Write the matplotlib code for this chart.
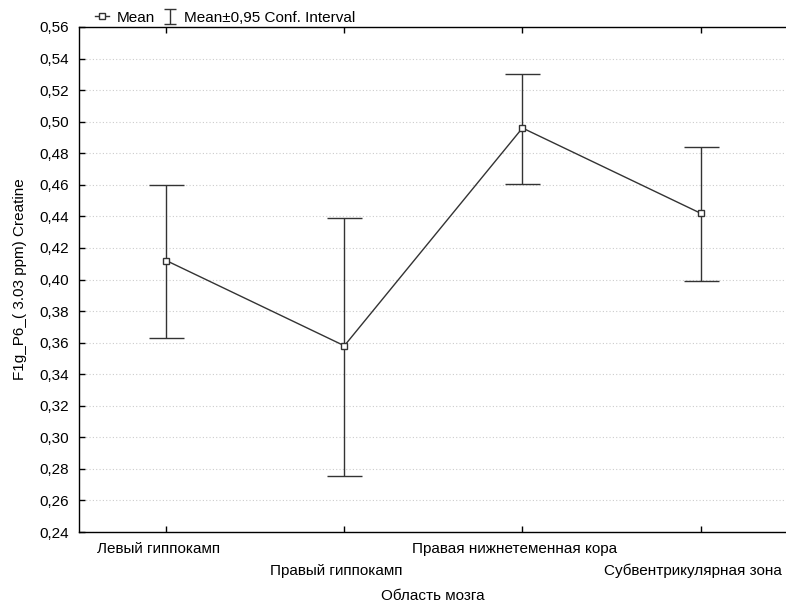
''' Creatine means by brain region with 95% CI '''

import numpy as np
import matplotlib
matplotlib.use('Agg')
import matplotlib.pyplot as plt
import matplotlib.transforms as mtransforms

plt.rcParams['font.family'] = ['Liberation Sans', 'DejaVu Sans']

regions = ['Левый гиппокамп', 'Правый гиппокамп',
           'Правая нижнетеменная кора', 'Субвентрикулярная зона']
means = [0.412, 0.358, 0.496, 0.442]
ci_low = [0.363, 0.2755, 0.4605, 0.399]
ci_high = [0.460, 0.439, 0.530, 0.484]
yticks = [0.24, 0.26, 0.28, 0.30, 0.32, 0.34, 0.36, 0.38, 0.40,
          0.42, 0.44, 0.46, 0.48, 0.50, 0.52, 0.54, 0.56]

col = '#333333'
fs = 11
W, H = 786, 608
fig = plt.figure(figsize=(W / 100, H / 100), dpi=100)
ax = fig.add_axes([79 / W, (H - 532) / H, (W - 79) / W, (532 - 27) / H])

x = list(range(len(regions)))
err = [[m - lo for m, lo in zip(means, ci_low)],
       [hi - m for m, hi in zip(means, ci_high)]]

ax.errorbar(x, means, yerr=err, fmt='none', ecolor=col, elinewidth=1,
            capsize=12.6, capthick=1, zorder=2)
line, = ax.plot(x, means, color=col, lw=1, marker='s', ms=5, mfc='white',
                mec=col, mew=1, label='Mean', zorder=3)
# small proxy for the legend symbol
eb = ax.errorbar([np.nan], [np.nan], yerr=[0.01], fmt='none', ecolor=col,
                 elinewidth=1, capsize=4, capthick=1,
                 label='Mean±0,95 Conf. Interval')

ax.set_xlim(-0.49, 3.48)
ax.set_ylim(0.24, 0.56)
ax.set_yticks(yticks)
ax.set_yticklabels([('%.2f' % v).replace('.', ',') for v in yticks])
ax.set_xticks(x)
ax.set_xticklabels(regions)
ax.yaxis.grid(True, color='#cccccc', linestyle=(0, (1, 2)), linewidth=0.8)
ax.set_axisbelow(True)

ax.spines['right'].set_visible(False)
for s in ['left', 'top', 'bottom']:
    ax.spines[s].set_linewidth(1)
    ax.spines[s].set_color('black')
ax.tick_params(axis='both', direction='in', length=4, width=1, labelsize=fs)
ax.tick_params(axis='x', top=True)
ax.tick_params(axis='y', pad=7)

# staggered category labels, nudged a bit to the left
shift = mtransforms.ScaledTranslation(-8 / 100, 0, fig.dpi_scale_trans)
for i, t in enumerate(ax.xaxis.get_major_ticks()):
    t.set_pad(7.5 if i % 2 == 0 else 22.7)
for lab in ax.get_xticklabels():
    lab.set_transform(lab.get_transform() + shift)

ax.set_xlabel('Область мозга', fontsize=fs, labelpad=8)
ax.set_ylabel('F1g_P6_( 3.03 ppm) Creatine', fontsize=fs, labelpad=9)

ax.legend(handles=[line, eb], loc='lower left', bbox_to_anchor=(0.02, 1.0),
          ncol=2, frameon=False, fontsize=fs, handlelength=0.9,
          handletextpad=0.5, columnspacing=0.5, borderaxespad=0, borderpad=0.15)

fig.savefig('out.png', dpi=100)
